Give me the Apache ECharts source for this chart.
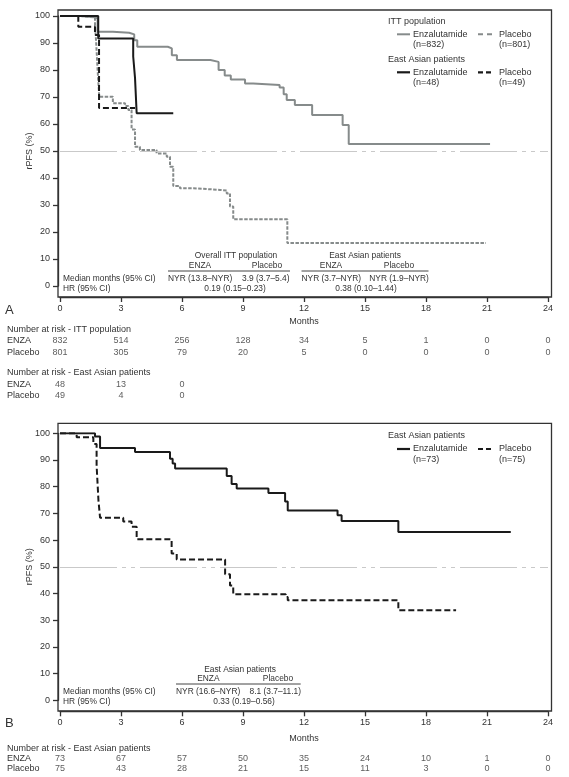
<!DOCTYPE html>
<html>
<head>
<meta charset="utf-8">
<script src="https://cdn.jsdelivr.net/npm/echarts@6/dist/echarts.min.js"></script>
<style>
  html, body { margin: 0; padding: 0; background: #fff; }
  #chart { width: 569px; height: 777px; }
</style>
</head>
<body>
<div id="chart"></div>
<script>
// x ticks (months) and risk table columns
var months = [0, 3, 6, 9, 12, 15, 18, 21, 24]

// panel A - ITT population
var ittEnzaT = [0, 1.0, 1.75, 1.85, 2.6, 3.4, 3.65, 3.8, 5.3, 5.5, 5.75, 7.4, 7.8, 8.1, 8.4, 9.1, 9.5, 10.8, 11.0, 11.15, 11.55, 12.4, 13.9, 14.2, 21.15]
var ittEnzaS = [100, 99.5, 99, 94.2, 93.8, 93.2, 91, 88.6, 88, 85.5, 83.7, 83, 80, 78, 76.5, 75, 74.4, 73.5, 71, 68.9, 67, 63.3, 59.6, 52.6, 52.6]
var ittPboT = [0, 1.0, 1.72, 1.78, 1.85, 1.93, 2.6, 3.2, 3.36, 3.52, 3.69, 3.93, 4.75, 5.25, 5.41, 5.57, 5.9, 6.56, 7.87, 8.2, 8.36, 8.52, 11.18, 20.95]
var ittPboS = [100, 99.5, 97, 90, 80, 70.1, 67.7, 66.7, 65.2, 58, 51.6, 50.4, 49.1, 47.9, 44.2, 37, 36.2, 35.6, 35.4, 34.3, 29.4, 24.7, 15.9, 15.9]
// panel A - East Asian patients
var eaEnzaAT = [0, 1.88, 3.6, 3.69, 3.77, 5.57]
var eaEnzaAS = [100, 91.7, 85, 77, 64, 64]
var eaPboAT = [0, 0.9, 1.72, 1.92, 3.69]
var eaPboAS = [100, 96, 93, 65.9, 65.9]

// panel B - East Asian patients
var eaEnzaBT = [0, 1.72, 1.97, 3.69, 5.41, 5.54, 5.66, 8.2, 8.44, 8.69, 10.25, 11.07, 11.2, 13.65, 13.85, 16.64, 22.17]
var eaEnzaBS = [100, 98.8, 94.5, 93, 90.5, 88.7, 86.8, 84, 81, 79.3, 77.6, 74.5, 71.1, 69.3, 67.2, 63, 63]
var eaPboBT = [0, 0.82, 1.64, 1.8, 1.89, 1.97, 3.11, 3.52, 3.77, 5.49, 5.74, 8.12, 8.36, 8.52, 11.1, 11.2, 16.64, 19.48]
var eaPboBS = [100, 98.5, 96, 88, 75, 68.4, 67, 65, 60.3, 55, 52.7, 47.2, 43, 39.7, 38.7, 37.5, 33.7, 33.7]

// number at risk
var riskRows = ['ENZA', 'Placebo']
var riskIttEnza = [832, 514, 256, 128, 34, 5, 1, 0, 0]
var riskIttPbo = [801, 305, 79, 20, 5, 0, 0, 0, 0]
var riskEaEnzaA = [48, 13, 0]
var riskEaPboA = [49, 4, 0]
var riskEaEnzaB = [73, 67, 57, 50, 35, 24, 10, 1, 0]
var riskEaPboB = [75, 43, 28, 21, 15, 11, 3, 0, 0]

// median / HR annotation texts
var annoIttA = ['Overall ITT population', 'NYR (13.8\u2013NYR)', '3.9 (3.7\u20135.4)', '0.19 (0.15\u20130.23)']
var annoEaA = ['East Asian patients', 'NYR (3.7\u2013NYR)', 'NYR (1.9\u2013NYR)', '0.38 (0.10\u20131.44)']
var annoEaB = ['East Asian patients', 'NYR (16.6\u2013NYR)', '8.1 (3.7\u201311.1)', '0.33 (0.19\u20130.56)']

var FONT = '"Liberation Sans", Arial, sans-serif'
var TXT = '#333'
var GRAY = '#868b8b'
var BLACK = '#1a1a1a'

function zip(t, s) {
  return t.map(function (v, i) { return [v, s[i]] })
}
function riskPts(vals, row) {
  return vals.map(function (v, i) { return [months[i], row, v] })
}

function txt(x, y, s, size, align) {
  return {
    type: 'text', silent: true,
    style: {
      x: x, y: y, text: s, fill: TXT,
      font: (size || 9) + 'px ' + FONT,
      textAlign: align || 'left', align: align || 'left',
      textVerticalAlign: 'middle', verticalAlign: 'middle'
    }
  }
}
function seg(x1, y1, x2, y2, color, width, dash) {
  return {
    type: 'line', silent: true,
    shape: { x1: x1, y1: y1, x2: x2, y2: y2 },
    style: { stroke: color, lineWidth: width, lineDash: dash || null }
  }
}
function frame(x, y, w, h) {
  return {
    type: 'rect', silent: true,
    shape: { x: x, y: y, width: w, height: h },
    style: { fill: 'none', stroke: '#333', lineWidth: 1.3 }
  }
}

var plotX = function (name, gap) {
  return {
    type: 'value', min: 0, max: 24, interval: 3, offset: 11,
    axisLine: { show: true, onZero: false, lineStyle: { color: '#333', width: 1.3 } },
    axisTick: { show: true, length: 5, lineStyle: { color: '#333', width: 1.3 } },
    axisLabel: { margin: 7, fontSize: 9, color: TXT, fontFamily: FONT },
    splitLine: { show: false },
    name: name, nameLocation: 'middle', nameGap: gap, nameMoveOverlap: false,
    nameTextStyle: { fontSize: 9, color: TXT, fontFamily: FONT }
  }
}
var plotY = {
  type: 'value', min: 0, max: 100, interval: 10, offset: 2,
  axisLine: { show: true, onZero: false, lineStyle: { color: '#333', width: 1.3 } },
  axisTick: { show: true, length: 5, lineStyle: { color: '#333', width: 1.3 } },
  axisLabel: { margin: 8, fontSize: 9, color: TXT, fontFamily: FONT },
  splitLine: { show: false },
  name: 'rPFS (%)', nameLocation: 'middle', nameGap: 23.5, nameRotate: 90, nameMoveOverlap: false,
  nameTextStyle: { fontSize: 9, color: TXT, fontFamily: FONT }
}
var riskX = { type: 'value', min: 0, max: 24, show: false }
var riskY = {
  type: 'category', data: riskRows, inverse: true,
  axisLine: { show: false }, axisTick: { show: false },
  axisLabel: { interval: 0, margin: 53, align: 'left', fontSize: 9, color: TXT, fontFamily: FONT, hideOverlap: false }
}

var refLine = {
  silent: true, symbol: ['none', 'none'], label: { show: false },
  lineStyle: { color: '#c9c9c9', width: 1.2, type: [57, 5, 4, 5, 4, 5] },
  data: [{ yAxis: 50 }]
}

function km(name, data, xi, color, dash, withRef) {
  var s = {
    type: 'line', name: name, data: data, step: 'end',
    xAxisIndex: xi, yAxisIndex: xi, showSymbol: false, symbol: 'none',
    lineStyle: { color: color, width: 2, type: dash || 'solid' }
  }
  if (withRef) s.markLine = refLine
  return s
}
function risk(vals, row, xi) {
  return {
    type: 'scatter', data: riskPts(vals, row), xAxisIndex: xi, yAxisIndex: xi,
    symbolSize: 1, itemStyle: { color: 'rgba(0,0,0,0)' },
    label: {
      show: true, position: 'inside', fontSize: 9, color: TXT, fontFamily: FONT,
      formatter: function (p) { return p.value[2] }
    }
  }
}

var graphics = [
  frame(58, 10, 493.5, 287),
  frame(58, 423.3, 493.5, 287.7),
  txt(5, 310, 'A', 13),
  txt(5, 723, 'B', 13),
  // panel A legend
  txt(388, 21.7, 'ITT population'),
  seg(397, 34.3, 410, 34.3, GRAY, 2),
  txt(413, 34.3, 'Enzalutamide'), txt(413, 44.5, '(n=832)'),
  seg(478, 34.3, 492, 34.3, GRAY, 2, [5, 4]),
  txt(499, 34.3, 'Placebo'), txt(499, 44.5, '(n=801)'),
  txt(388, 60, 'East Asian patients'),
  seg(397, 72.3, 410, 72.3, BLACK, 2.2),
  txt(413, 72.3, 'Enzalutamide'), txt(413, 82.7, '(n=48)'),
  seg(478, 72.3, 492, 72.3, BLACK, 2.2, [5, 3]),
  txt(499, 72.3, 'Placebo'), txt(499, 82.7, '(n=49)'),
  // panel A medians
  txt(236, 256, annoIttA[0], 8.4, 'center'),
  txt(200, 265.7, 'ENZA', 8.4, 'center'), txt(267, 265.7, 'Placebo', 8.4, 'center'),
  seg(168, 271, 290, 271, '#444', 1),
  txt(63, 278.3, 'Median months (95% CI)', 8.4),
  txt(168, 278.3, annoIttA[1], 8.4), txt(242, 278.3, annoIttA[2], 8.4),
  txt(63, 288.5, 'HR (95% CI)', 8.4),
  txt(235, 288.5, annoIttA[3], 8.4, 'center'),
  txt(365, 256, annoEaA[0], 8.4, 'center'),
  txt(331, 265.7, 'ENZA', 8.4, 'center'), txt(399, 265.7, 'Placebo', 8.4, 'center'),
  seg(301.5, 271, 428.5, 271, '#444', 1),
  txt(301.5, 278.3, annoEaA[1], 8.4), txt(369.3, 278.3, annoEaA[2], 8.4),
  txt(366, 288.5, annoEaA[3], 8.4, 'center'),
  // panel A risk headers
  txt(7, 330, 'Number at risk - ITT population'),
  txt(7, 372.7, 'Number at risk - East Asian patients'),
  // panel B legend
  txt(388, 435.7, 'East Asian patients'),
  seg(397, 449, 410, 449, BLACK, 2.2),
  txt(413, 449, 'Enzalutamide'), txt(413, 459.5, '(n=73)'),
  seg(478, 449, 492, 449, BLACK, 2.2, [5, 3]),
  txt(499, 449, 'Placebo'), txt(499, 459.5, '(n=75)'),
  // panel B medians
  txt(240, 669.5, annoEaB[0], 8.4, 'center'),
  txt(208.3, 679, 'ENZA', 8.4, 'center'), txt(278, 679, 'Placebo', 8.4, 'center'),
  seg(176, 684, 300.7, 684, '#444', 1),
  txt(63, 691.7, 'Median months (95% CI)', 8.4),
  txt(176, 691.7, annoEaB[1], 8.4), txt(249.5, 691.7, annoEaB[2], 8.4),
  txt(63, 701.7, 'HR (95% CI)', 8.4),
  txt(244, 701.7, annoEaB[3], 8.4, 'center'),
  txt(7, 749, 'Number at risk - East Asian patients')
]

var chart = echarts.init(document.getElementById('chart'))
chart.setOption({
  animation: false,
  backgroundColor: '#fff',
  textStyle: { fontFamily: FONT },
  grid: [
    { left: 60, top: 16, width: 488, height: 270 },
    { left: 60, top: 335, width: 488, height: 23 },
    { left: 60, top: 378.5, width: 488, height: 23 },
    { left: 60, top: 433.3, width: 488, height: 267 },
    { left: 60, top: 754, width: 488, height: 20 }
  ],
  xAxis: [
    Object.assign({ gridIndex: 0 }, plotX('Months', 20)),
    Object.assign({ gridIndex: 1 }, riskX),
    Object.assign({ gridIndex: 2 }, riskX),
    Object.assign({ gridIndex: 3 }, plotX('Months', 23)),
    Object.assign({ gridIndex: 4 }, riskX)
  ],
  yAxis: [
    Object.assign({ gridIndex: 0 }, plotY),
    Object.assign({ gridIndex: 1 }, riskY),
    Object.assign({ gridIndex: 2 }, riskY),
    Object.assign({ gridIndex: 3 }, plotY),
    Object.assign({ gridIndex: 4 }, riskY)
  ],
  series: [
    km('ITT Enzalutamide', zip(ittEnzaT, ittEnzaS), 0, GRAY, null, true),
    km('ITT Placebo', zip(ittPboT, ittPboS), 0, GRAY, [3.5, 1.5]),
    km('EA Enzalutamide', zip(eaEnzaAT, eaEnzaAS), 0, BLACK),
    km('EA Placebo', zip(eaPboAT, eaPboAS), 0, BLACK, [6, 3]),
    risk(riskIttEnza, 'ENZA', 1),
    risk(riskIttPbo, 'Placebo', 1),
    risk(riskEaEnzaA, 'ENZA', 2),
    risk(riskEaPboA, 'Placebo', 2),
    km('EA Enzalutamide B', zip(eaEnzaBT, eaEnzaBS), 3, BLACK, null, true),
    km('EA Placebo B', zip(eaPboBT, eaPboBS), 3, BLACK, [6, 3]),
    risk(riskEaEnzaB, 'ENZA', 4),
    risk(riskEaPboB, 'Placebo', 4)
  ],
  graphic: graphics
})
</script>
</body>
</html>
